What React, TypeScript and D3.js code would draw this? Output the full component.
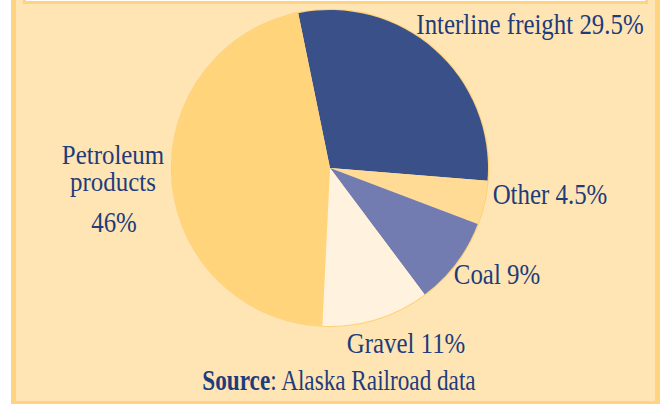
import React, { useEffect, useRef } from 'react';
import * as d3 from 'd3';

// freight tonnage shares, clockwise from the top
const categories = ['Interline freight', 'Other', 'Coal', 'Gravel', 'Petroleum products'];
const shares = [29.5, 4.5, 9, 11, 46];
const shareLabels = ['29.5%', '4.5%', '9%', '11%', '46%'];
const sliceColors = ['#3a5089', '#ffdb96', '#737cb0', '#fff3df', '#ffd47b'];

const W = 662;
const H = 404;
const textColor = '#1e3c7b';

const App = () => {
  const ref = useRef<SVGSVGElement | null>(null);

  useEffect(() => {
    const svg = d3.select(ref.current);
    svg.selectAll('*').remove();

    // outer panel
    svg.append('rect')
      .attr('x', 13.5).attr('y', -20)
      .attr('width', 644).attr('height', 423.5)
      .attr('fill', '#ffe5b4')
      .attr('stroke', '#ffd37f')
      .attr('stroke-width', 5);

    // title box, mostly cut off at the top
    svg.append('rect')
      .attr('x', 24.5).attr('y', -40)
      .attr('width', 622).attr('height', 42.5)
      .attr('fill', '#ffffff')
      .attr('stroke', '#ffd37f')
      .attr('stroke-width', 3);

    const cx = 330;
    const cy = 168;
    const radius = 158;

    const data = categories.map((c, i) => ({ name: c, value: shares[i], color: sliceColors[i] }));

    const pie = d3.pie<any>()
      .value(d => d.value)
      .sort(null)
      .startAngle(-11.6 * Math.PI / 180)
      .endAngle((360 - 11.6) * Math.PI / 180);

    const arc = d3.arc<any>().innerRadius(0).outerRadius(radius);

    const g = svg.append('g').attr('transform', `translate(${cx},${cy})`);

    g.append('circle')
      .attr('r', radius + 0.5)
      .attr('fill', 'none')
      .attr('stroke', '#ffd27a')
      .attr('stroke-width', 1.5);

    g.selectAll('path')
      .data(pie(data))
      .enter()
      .append('path')
      .attr('d', arc)
      .attr('fill', d => d.data.color);

    // label layout: centre x, baseline y, lines (one text element per label)
    const labels = [
      { x: 530, y: 34, lines: [`${categories[0]} ${shareLabels[0]}`] },
      { x: 550, y: 204, lines: [`${categories[1]} ${shareLabels[1]}`] },
      { x: 497, y: 284, lines: [`${categories[2]} ${shareLabels[2]}`] },
      { x: 406, y: 353, lines: [`${categories[3]} ${shareLabels[3]}`] },
      { x: 113, y: 164, lines: ['Petroleum', 'products'], dy: 27, size: 28, sx: 0.89 },
      { x: 114, y: 232, lines: [shareLabels[4]] },
    ];

    labels.forEach((l: any) => {
      const t = svg.append('text')
        .attr('transform', `translate(${l.x},${l.y}) scale(${l.sx || 0.83},1)`)
        .attr('text-anchor', 'middle')
        .attr('font-family', '"Liberation Serif", "Times New Roman", serif')
        .attr('font-size', l.size || 30)
        .attr('fill', textColor);
      l.lines.forEach((line: string, i: number) => {
        t.append('tspan')
          .attr('x', 0)
          .attr('y', i * (l.dy || 0))
          .text(line);
      });
    });

    const src = svg.append('text')
      .attr('transform', `translate(339,390) scale(0.8,1)`)
      .attr('text-anchor', 'middle')
      .attr('font-family', '"Liberation Serif", "Times New Roman", serif')
      .attr('font-size', 29)
      .attr('fill', textColor);
    src.append('tspan').attr('font-weight', 'bold').text('Source');
    src.append('tspan').text(': Alaska Railroad data');
  }, []);

  return (
    <svg
      ref={ref}
      width={W}
      height={H}
      style={{ position: 'absolute', left: 0, top: 0, background: '#ffffff' }}
    />
  );
};

export default App;
